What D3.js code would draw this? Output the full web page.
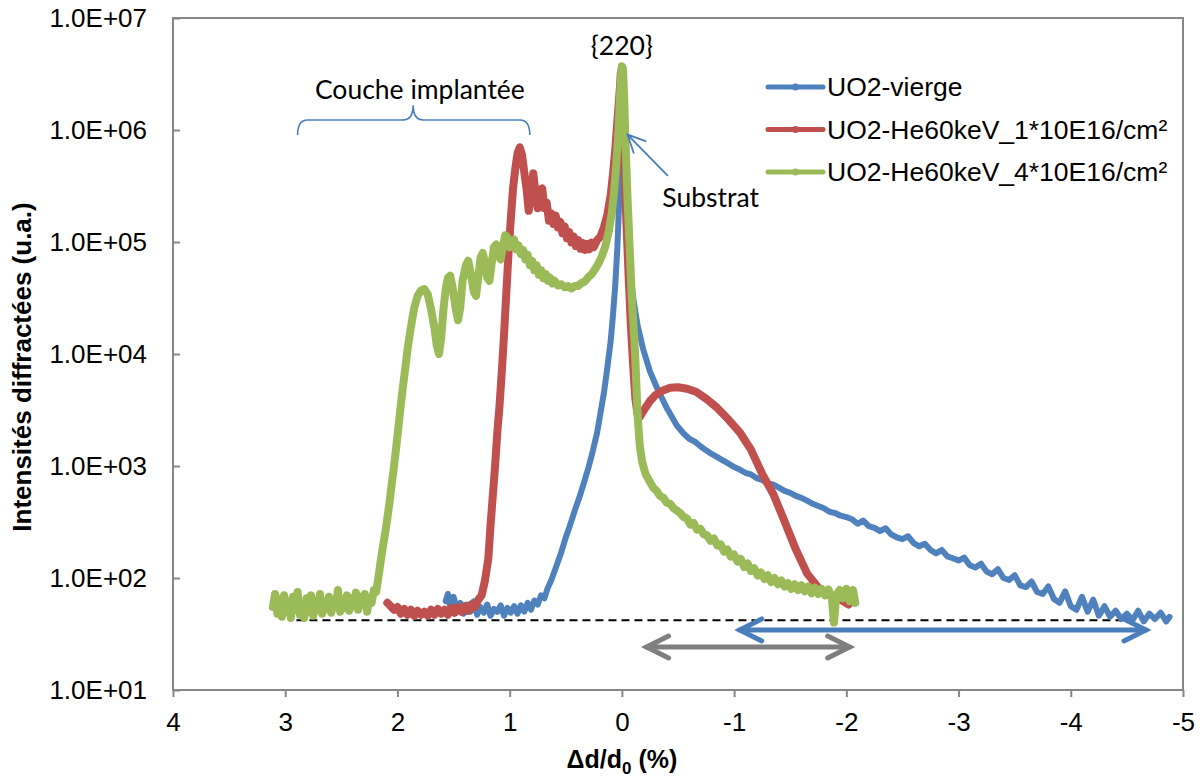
<!DOCTYPE html>
<html lang="fr">
<head>
<meta charset="utf-8">
<title>UO2 - intensites diffractees</title>
<script src="https://cdnjs.cloudflare.com/ajax/libs/d3/7.8.5/d3.min.js"></script>
<style>
  body { margin: 0; background: #ffffff; }
  svg { display: block; font-family: "Liberation Sans", Arial, sans-serif; }
</style>
</head>
<body>
<script>
var width = 1203, height = 778;
var plot = {left: 173, top: 18, right: 1183, bottom: 690};

// axis ticks
var xTicks = [4, 3, 2, 1, 0, -1, -2, -3, -4, -5];
var yTicks = [1e1, 1e2, 1e3, 1e4, 1e5, 1e6, 1e7];

var seriesNames = ["UO2-vierge", "UO2-He60keV_1*10E16/cm²", "UO2-He60keV_4*10E16/cm²"];
var seriesColors = ["#4F81BD", "#C0504D", "#9BBB59"];

// [delta d/d0 (%), intensity]
var vierge = [
  [1.57, 62], [1.55, 72], [1.53, 55], [1.50, 68], [1.47, 52], [1.44, 60], [1.41, 48], [1.38, 58],
  [1.35, 50], [1.32, 62], [1.29, 47], [1.26, 55], [1.23, 49], [1.20, 58], [1.17, 46], [1.14, 53],
  [1.11, 50], [1.08, 57], [1.05, 46], [1.02, 54], [0.99, 49], [0.96, 56], [0.93, 48], [0.90, 57],
  [0.87, 50], [0.84, 60], [0.81, 52], [0.78, 63], [0.75, 58], [0.72, 70], [0.69, 66], [0.66, 82],
  [0.63, 95], [0.60, 115], [0.57, 140], [0.54, 170], [0.50, 230], [0.46, 300], [0.42, 400],
  [0.38, 520], [0.34, 700], [0.30, 950], [0.26, 1350], [0.22, 2000], [0.19, 3000], [0.16, 4500],
  [0.13, 7500], [0.10, 13000], [0.08, 22000], [0.06, 40000], [0.04, 90000], [0.02, 300000],
  [0.01, 900000], [0.0, 2500000], [-0.01, 2800000], [-0.02, 900000], [-0.03, 300000],
  [-0.05, 110000], [-0.07, 60000], [-0.10, 32000], [-0.14, 18000], [-0.19, 11000], [-0.25, 7000],
  [-0.32, 4800], [-0.40, 3300], [-0.49, 2300], [-0.55, 1950], [-0.60, 1750], [-0.65, 1650],
  [-0.70, 1500], [-0.75, 1380], [-0.80, 1280], [-0.85, 1200], [-0.90, 1120], [-0.95, 1050],
  [-1.00, 980], [-1.05, 930], [-1.10, 870], [-1.15, 840], [-1.20, 780], [-1.25, 750], [-1.30, 700],
  [-1.35, 680], [-1.40, 640], [-1.45, 600], [-1.50, 575], [-1.55, 540], [-1.60, 520], [-1.65, 490],
  [-1.70, 460], [-1.75, 440], [-1.80, 420], [-1.85, 390], [-1.90, 380], [-1.95, 360], [-2.00, 350],
  [-2.05, 335], [-2.10, 305], [-2.15, 325], [-2.20, 290], [-2.25, 280], [-2.30, 262], [-2.35, 278],
  [-2.40, 245], [-2.45, 230], [-2.50, 222], [-2.55, 236], [-2.60, 205], [-2.65, 192], [-2.70, 202],
  [-2.75, 178], [-2.80, 166], [-2.85, 178], [-2.90, 156], [-2.95, 150], [-3.00, 143], [-3.05, 152],
  [-3.10, 130], [-3.15, 124], [-3.20, 134], [-3.25, 114], [-3.30, 108], [-3.35, 120], [-3.40, 100],
  [-3.45, 96], [-3.50, 106], [-3.55, 86], [-3.60, 83], [-3.65, 93], [-3.70, 75], [-3.75, 72],
  [-3.80, 84], [-3.85, 65], [-3.90, 60], [-3.95, 76], [-4.00, 56], [-4.05, 52], [-4.10, 68],
  [-4.15, 50], [-4.20, 64], [-4.25, 46], [-4.30, 56], [-4.35, 45], [-4.40, 51], [-4.45, 43],
  [-4.50, 48], [-4.55, 42], [-4.60, 51], [-4.65, 41], [-4.70, 48], [-4.75, 43], [-4.80, 49],
  [-4.85, 41], [-4.88, 45]
];

var he1e16 = [
  [2.09, 60], [2.06, 56], [2.03, 52], [2.00, 55], [1.97, 48], [1.94, 53], [1.91, 47], [1.88, 52],
  [1.85, 46], [1.82, 51], [1.79, 47], [1.76, 50], [1.73, 46], [1.70, 52], [1.67, 47], [1.64, 53],
  [1.61, 48], [1.58, 52], [1.55, 47], [1.52, 54], [1.49, 49], [1.46, 55], [1.43, 50], [1.40, 56],
  [1.37, 51], [1.34, 58], [1.31, 55], [1.28, 64], [1.25, 70], [1.22, 95], [1.19, 150], [1.17, 300],
  [1.15, 550], [1.13, 1000], [1.11, 2000], [1.09, 3500], [1.07, 7000], [1.05, 15000],
  [1.03, 35000], [1.01, 80000], [0.99, 160000], [0.97, 300000], [0.95, 450000], [0.93, 620000],
  [0.91, 700000], [0.89, 600000], [0.87, 420000], [0.85, 300000], [0.83, 190000], [0.81, 280000],
  [0.79, 410000], [0.77, 280000], [0.75, 200000], [0.73, 290000], [0.71, 300000], [0.69, 200000],
  [0.67, 225000], [0.65, 155000], [0.63, 180000], [0.61, 145000], [0.59, 172000], [0.57, 135000],
  [0.55, 152000], [0.53, 120000], [0.51, 138000], [0.49, 108000], [0.47, 123000], [0.45, 99000],
  [0.43, 112000], [0.41, 92000], [0.39, 104000], [0.37, 87000], [0.35, 98000], [0.33, 85000],
  [0.31, 96000], [0.29, 86000], [0.27, 99000], [0.25, 90000], [0.22, 104000], [0.19, 112000],
  [0.16, 135000], [0.13, 175000], [0.10, 260000], [0.08, 400000], [0.06, 650000], [0.04, 1200000],
  [0.02, 2200000], [0.01, 3200000], [0.0, 3600000], [-0.005, 2500000], [-0.02, 600000],
  [-0.04, 150000], [-0.06, 50000], [-0.08, 18000], [-0.10, 8000], [-0.12, 4000], [-0.14, 2900],
  [-0.16, 2750], [-0.20, 3200], [-0.25, 3800], [-0.30, 4300], [-0.36, 4700], [-0.43, 5000],
  [-0.50, 5050], [-0.58, 4900], [-0.66, 4600], [-0.75, 4000], [-0.85, 3300], [-0.95, 2600],
  [-1.05, 2000], [-1.15, 1400], [-1.25, 850], [-1.35, 560], [-1.45, 320], [-1.55, 180],
  [-1.65, 110], [-1.75, 82], [-1.85, 70], [-1.95, 64], [-2.02, 58]
];

var he4e16 = [
  [3.11, 55], [3.09, 72], [3.07, 48], [3.05, 65], [3.03, 45], [3.01, 70], [2.99, 50], [2.97, 62],
  [2.95, 44], [2.93, 68], [2.91, 52], [2.89, 75], [2.87, 47], [2.85, 60], [2.83, 44], [2.81, 66],
  [2.79, 50], [2.77, 70], [2.75, 46], [2.73, 63], [2.71, 52], [2.69, 72], [2.67, 48], [2.65, 61],
  [2.63, 53], [2.61, 68], [2.59, 49], [2.57, 64], [2.55, 55], [2.53, 78], [2.51, 50], [2.49, 62],
  [2.47, 54], [2.45, 70], [2.43, 51], [2.41, 66], [2.39, 56], [2.37, 74], [2.35, 52], [2.33, 68],
  [2.31, 58], [2.29, 72], [2.27, 50], [2.25, 66], [2.23, 60], [2.21, 78], [2.19, 75], [2.17, 100],
  [2.15, 140], [2.13, 190], [2.11, 250], [2.09, 340], [2.07, 480], [2.05, 700], [2.03, 1000],
  [2.01, 1500], [1.99, 2300], [1.97, 3500], [1.95, 5200], [1.93, 7500], [1.91, 11000],
  [1.89, 15000], [1.87, 20000], [1.85, 26000], [1.82, 33000], [1.79, 37000], [1.76, 38000],
  [1.73, 34000], [1.70, 25000], [1.67, 17000], [1.65, 12000], [1.63, 10000], [1.61, 14000],
  [1.59, 25000], [1.57, 38000], [1.55, 48000], [1.53, 50000], [1.51, 40000], [1.48, 25000],
  [1.46, 20000], [1.44, 26000], [1.42, 45000], [1.39, 62000], [1.37, 68000], [1.35, 55000],
  [1.32, 36000], [1.30, 33000], [1.28, 48000], [1.26, 72000], [1.24, 80000], [1.22, 65000],
  [1.20, 48000], [1.18, 45000], [1.16, 65000], [1.14, 90000], [1.12, 95000], [1.10, 75000],
  [1.08, 70000], [1.06, 92000], [1.04, 115000], [1.02, 110000], [1.00, 90000], [0.98, 100000],
  [0.96, 105000], [0.94, 86000], [0.92, 93000], [0.90, 78000], [0.88, 85000], [0.86, 70000],
  [0.84, 77000], [0.82, 62000], [0.80, 68000], [0.78, 56000], [0.76, 62000], [0.74, 51000],
  [0.72, 56000], [0.70, 47500], [0.68, 52000], [0.66, 45000], [0.64, 48000], [0.62, 42500],
  [0.60, 45000], [0.57, 41000], [0.54, 42000], [0.51, 39500], [0.48, 40500], [0.45, 38500],
  [0.42, 40500], [0.39, 40500], [0.36, 43000], [0.33, 44500], [0.30, 48500], [0.27, 51500],
  [0.24, 57000], [0.21, 64000], [0.18, 74000], [0.15, 90000], [0.12, 120000], [0.09, 180000],
  [0.07, 280000], [0.05, 500000], [0.03, 1000000], [0.02, 1700000], [0.01, 2800000],
  [0.0, 3700000], [-0.01, 3500000], [-0.02, 2000000], [-0.03, 900000], [-0.05, 250000],
  [-0.07, 85000], [-0.09, 30000], [-0.11, 14000], [-0.12, 9000], [-0.14, 2800], [-0.16, 1500],
  [-0.18, 1100], [-0.21, 850], [-0.25, 720], [-0.28, 640], [-0.31, 600], [-0.34, 540],
  [-0.37, 520], [-0.40, 470], [-0.43, 460], [-0.46, 420], [-0.49, 400], [-0.52, 380], [-0.55, 350],
  [-0.58, 340], [-0.61, 300], [-0.64, 310], [-0.67, 270], [-0.70, 275], [-0.73, 245], [-0.76, 240],
  [-0.79, 215], [-0.82, 225], [-0.85, 195], [-0.88, 200], [-0.91, 172], [-0.94, 180], [-0.97, 155],
  [-1.00, 162], [-1.03, 140], [-1.06, 148], [-1.09, 125], [-1.12, 135], [-1.15, 115], [-1.18, 122],
  [-1.21, 105], [-1.24, 112], [-1.27, 98], [-1.30, 106], [-1.33, 92], [-1.36, 100], [-1.39, 88],
  [-1.42, 95], [-1.45, 84], [-1.48, 90], [-1.51, 80], [-1.54, 88], [-1.57, 78], [-1.60, 86],
  [-1.63, 76], [-1.66, 84], [-1.69, 73], [-1.72, 82], [-1.75, 72], [-1.78, 80], [-1.81, 70],
  [-1.84, 79], [-1.87, 68], [-1.89, 40], [-1.91, 70], [-1.94, 78], [-1.97, 66], [-2.00, 80],
  [-2.03, 62], [-2.06, 78], [-2.08, 60]
];

// annotation positions, in data units
var baseline = {x1: 2.9, x2: -4.45, y: 42};
var blueSpan = {x1: -1.05, x2: -4.67, y: 34.4};
var graySpan = {x1: -0.22, x2: -2.03, y: 24.2};
var brace = {x1: 2.89, xm: 1.86, x2: 0.82, yEnd: 9e5, yTop: 1.23e6, yMid: 1.66e6};
var substratArrow = {x1: -0.41, y1: 3.9e5, x2: -0.05, y2: 9.1e5};
var labels = [
  {text: "{220}", x: 0.0, y: 5.7e6, anchor: "middle"},
  {text: "Couche implantée", x: 1.8, y: 2.3e6, anchor: "middle"},
  {text: "Substrat", x: -0.36, y: 2.5e5, anchor: "start"}
];

var svg = d3.select("body").append("svg")
  .attr("width", width)
  .attr("height", height);

svg.append("rect").attr("width", width).attr("height", height).attr("fill", "#ffffff");

var x = d3.scaleLinear().domain([4, -5]).range([plot.left, plot.right]);
var y = d3.scaleLog().domain([1e1, 1e7]).range([plot.bottom, plot.top]);

function expLabel(d) {
  var e = Math.round(Math.log10(d));
  return "1.0E+" + (e < 10 ? "0" : "") + e;
}

// y axis, ticks pointing inside
var yAxis = svg.append("g")
  .attr("transform", "translate(" + plot.left + ",0)")
  .call(d3.axisLeft(y).tickValues(yTicks).tickFormat(expLabel)
    .tickSizeInner(-7).tickSizeOuter(0).tickPadding(26));
yAxis.selectAll("text").attr("font-size", 26).attr("fill", "#000");

// x axis
var xAxis = svg.append("g")
  .attr("transform", "translate(0," + plot.bottom + ")")
  .call(d3.axisBottom(x).tickValues(xTicks).tickFormat(function (d) { return String(d); })
    .tickSizeInner(7).tickSizeOuter(0).tickPadding(16));
xAxis.selectAll("text").attr("font-size", 26).attr("fill", "#000");

svg.selectAll(".domain").remove();
svg.selectAll(".tick line").attr("stroke", "#868686").attr("stroke-width", 2);

// plot area frame
svg.append("rect")
  .attr("x", plot.left).attr("y", plot.top)
  .attr("width", plot.right - plot.left).attr("height", plot.bottom - plot.top)
  .attr("fill", "none").attr("stroke", "#868686").attr("stroke-width", 2);

// dashed background level
svg.append("line")
  .attr("x1", x(baseline.x1)).attr("x2", x(baseline.x2))
  .attr("y1", y(baseline.y)).attr("y2", y(baseline.y))
  .attr("stroke", "#000").attr("stroke-width", 2).attr("stroke-dasharray", "8,5");

// series
var line = d3.line()
  .x(function (d) { return x(d[0]); })
  .y(function (d) { return y(d[1]); });

var series = [vierge, he1e16, he4e16];
var widths = [6, 8, 8];
series.forEach(function (s, i) {
  svg.append("path")
    .datum(s)
    .attr("d", line)
    .attr("fill", "none")
    .attr("stroke", seriesColors[i])
    .attr("stroke-width", widths[i])
    .attr("stroke-linejoin", "round")
    .attr("stroke-linecap", "round");
});

// double arrows under the curves
function doubleArrow(span, color) {
  var g = svg.append("g")
    .attr("stroke", color).attr("stroke-width", 5)
    .attr("stroke-linecap", "round").attr("fill", "none");
  var xa = x(span.x1), xb = x(span.x2), yy = y(span.y);
  g.append("line").attr("x1", xa).attr("x2", xb).attr("y1", yy).attr("y2", yy);
  g.append("path").attr("d", "M" + (xa + 22) + "," + (yy - 11) + "L" + xa + "," + yy + "L" + (xa + 22) + "," + (yy + 11));
  g.append("path").attr("d", "M" + (xb - 22) + "," + (yy - 11) + "L" + xb + "," + yy + "L" + (xb - 22) + "," + (yy + 11));
}
doubleArrow(blueSpan, "#4A7EBB");
doubleArrow(graySpan, "#7F7F7F");

// brace over the implanted layer
var bx1 = x(brace.x1), bxm = x(brace.xm), bx2 = x(brace.x2);
var byE = y(brace.yEnd), byT = y(brace.yTop), byM = y(brace.yMid);
svg.append("path")
  .attr("d", "M" + bx1 + "," + byE +
    "Q" + bx1 + "," + byT + " " + (bx1 + 10) + "," + byT +
    "L" + (bxm - 10) + "," + byT +
    "Q" + bxm + "," + byT + " " + bxm + "," + byM +
    "Q" + bxm + "," + byT + " " + (bxm + 10) + "," + byT +
    "L" + (bx2 - 10) + "," + byT +
    "Q" + bx2 + "," + byT + " " + bx2 + "," + byE)
  .attr("fill", "none").attr("stroke", "#4A7EBB").attr("stroke-width", 1.6);

// substrate arrow
var ax1 = x(substratArrow.x1), ay1 = y(substratArrow.y1);
var ax2 = x(substratArrow.x2), ay2 = y(substratArrow.y2);
var ang = Math.atan2(ay1 - ay2, ax1 - ax2);
var headLen = 20, spread = 0.45;
svg.append("path")
  .attr("d", "M" + ax1 + "," + ay1 + "L" + ax2 + "," + ay2 +
    "M" + (ax2 + headLen * Math.cos(ang - spread)) + "," + (ay2 + headLen * Math.sin(ang - spread)) +
    "L" + ax2 + "," + ay2 +
    "L" + (ax2 + headLen * Math.cos(ang + spread)) + "," + (ay2 + headLen * Math.sin(ang + spread)))
  .attr("fill", "none").attr("stroke", "#4A7EBB").attr("stroke-width", 1.8);

// text annotations
svg.selectAll(".annot")
  .data(labels)
  .enter().append("text")
  .attr("class", "annot")
  .attr("x", function (d) { return x(d.x); })
  .attr("y", function (d) { return y(d.y); })
  .attr("dy", "0.35em")
  .attr("text-anchor", function (d) { return d.anchor; })
  .attr("font-family", "Lato, 'Open Sans', sans-serif")
  .attr("font-size", 26.5)
  .attr("fill", "#000")
  .text(function (d) { return d.text; });

// legend
var legend = svg.append("g").attr("transform", "translate(768,87)");
seriesNames.forEach(function (name, i) {
  var row = legend.append("g").attr("transform", "translate(0," + (i * 42.5) + ")");
  row.append("line").attr("x1", 0).attr("x2", 55).attr("y1", 0).attr("y2", 0)
    .attr("stroke", seriesColors[i]).attr("stroke-width", 5).attr("stroke-linecap", "round");
  row.append("circle").attr("cx", 27.5).attr("cy", 0).attr("r", 3.5).attr("fill", seriesColors[i]);
  row.append("text").attr("x", 59).attr("y", 0).attr("dy", "0.35em")
    .attr("font-size", 26.5).attr("fill", "#000").text(name);
});

// axis titles
svg.append("text")
  .attr("x", x(0)).attr("y", 768)
  .attr("text-anchor", "middle")
  .attr("font-size", 25).attr("font-weight", "bold")
  .html('Δd/d<tspan font-size="17" dy="6">0</tspan><tspan dy="-6"> (%)</tspan>');

svg.append("text")
  .attr("transform", "translate(31,367) rotate(-90)")
  .attr("text-anchor", "middle")
  .attr("font-size", 26).attr("font-weight", "bold")
  .text("Intensités diffractées (u.a.)");
</script>
</body>
</html>
